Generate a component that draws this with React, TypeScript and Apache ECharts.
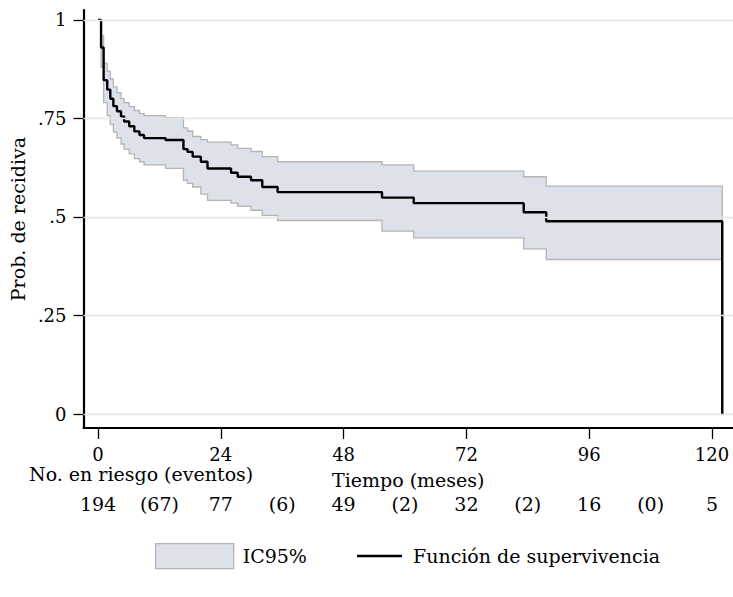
import React, { useEffect, useRef } from "react";
import * as echarts from "echarts";

// Kaplan-Meier step data (months, probability)
const times = [0, 0.6, 1.1, 1.8, 2.4, 3.0, 3.7, 4.5, 5.1, 6.1, 7.1, 8.1, 9.0, 13.2, 16.7, 17.5, 18.5, 20.1, 21.4, 26.0, 27.3, 29.9, 32.1, 35.1, 55.5, 61.7, 83.2, 87.6];
const survival = [1, 0.93, 0.847, 0.823, 0.8, 0.781, 0.768, 0.755, 0.742, 0.73, 0.717, 0.708, 0.7, 0.695, 0.672, 0.665, 0.653, 0.64, 0.623, 0.612, 0.602, 0.593, 0.576, 0.563, 0.549, 0.535, 0.512, 0.489];
const upper = [1, 0.96, 0.89, 0.87, 0.85, 0.83, 0.815, 0.8, 0.79, 0.78, 0.77, 0.762, 0.757, 0.751, 0.726, 0.718, 0.704, 0.696, 0.69, 0.683, 0.674, 0.666, 0.653, 0.64, 0.632, 0.616, 0.602, 0.578];
const lower = [1, 0.88, 0.79, 0.757, 0.735, 0.715, 0.7, 0.685, 0.672, 0.66, 0.648, 0.64, 0.632, 0.623, 0.593, 0.585, 0.576, 0.558, 0.542, 0.535, 0.527, 0.517, 0.504, 0.491, 0.464, 0.447, 0.419, 0.392];
const lastTime = 122;

const xTicks = [0, 24, 48, 72, 96, 120];
const yTicks = [0, 0.25, 0.5, 0.75, 1];
const yTickLabels = ["0", ".25", ".5", ".75", "1"];

const riskTimes = [0, 12, 24, 36, 48, 60, 72, 84, 96, 108, 120];
const riskLabels = ["194", "(67)", "77", "(6)", "49", "(2)", "32", "(2)", "16", "(0)", "5"];

const FONT = "DejaVu Serif";
const FS = 19;
const TICK_FS = 18;

export default function App() {
  const ref = useRef<HTMLDivElement>(null);
  useEffect(() => {
    if (!ref.current) return;
    const chart = echarts.init(ref.current, null, { renderer: "svg" });

    const lineData: number[][] = times.map((t, i) => [t, survival[i]]);
    lineData.push([lastTime, 0]);

    const option: any = {
      animation: false,
      backgroundColor: "#ffffff",
      textStyle: { fontFamily: FONT, color: "#000" },
      grid: { left: 83, right: 0, top: 10, bottom: 169, containLabel: false },
      xAxis: [
        {
          type: "value",
          min: -2.83,
          max: 124.1,
          name: "Tiempo (meses)",
          nameLocation: "middle",
          nameGap: 42,
          nameTextStyle: { fontFamily: FONT, fontSize: FS, color: "#000" },
          axisLine: { show: true, onZero: false, lineStyle: { color: "#000", width: 2.2 } },
          axisTick: { show: true, length: 11, customValues: xTicks, lineStyle: { color: "#000", width: 1.3 } },
          axisLabel: { customValues: xTicks, margin: 17, fontFamily: FONT, fontSize: TICK_FS, color: "#000" },
          splitLine: { show: false },
        },
        {
          type: "value",
          position: "bottom",
          min: -2.83,
          max: 124.1,
          axisLine: { show: false },
          axisTick: { show: false },
          splitLine: { show: false },
          axisLabel: {
            customValues: riskTimes,
            margin: 66,
            fontFamily: FONT,
            fontSize: FS,
            color: "#000",
            formatter: (v: number) => {
              const i = riskTimes.indexOf(v);
              return i >= 0 ? riskLabels[i] : "";
            },
          },
        },
      ],
      yAxis: {
        type: "value",
        min: -0.0355,
        max: 1.025,
        name: "Prob. de recidiva",
        nameLocation: "middle",
        nameGap: 52,
        nameTextStyle: { fontFamily: FONT, fontSize: FS, color: "#000" },
        axisLine: { show: true, onZero: false, lineStyle: { color: "#000", width: 2.2 } },
        axisTick: { show: true, length: 10, customValues: yTicks, lineStyle: { color: "#000", width: 1.3 } },
        axisLabel: {
          customValues: yTicks,
          margin: 17,
          fontFamily: FONT,
          fontSize: TICK_FS,
          color: "#000",
          formatter: (v: number) => {
            const i = yTicks.indexOf(v);
            return i >= 0 ? yTickLabels[i] : "";
          },
        },
        splitLine: { show: false },
      },
      legend: [
        {
          left: 155,
          top: 543,
          padding: 0,
          itemWidth: 78,
          itemHeight: 25,
          textStyle: { fontFamily: FONT, fontSize: FS, color: "#000", padding: [0, 0, 0, 4] },
          data: [
            { name: "IC95%", icon: "rect", itemStyle: { color: "#dde1ea", borderColor: "#b4b4b4", borderWidth: 1.3 } },
          ],
          selectedMode: false,
        },
        {
          left: 357,
          top: 545,
          padding: 0,
          itemWidth: 45,
          itemHeight: 2.4,
          textStyle: { fontFamily: FONT, fontSize: FS, color: "#000", padding: [0, 0, 0, 6], lineHeight: 22 },
          data: [{ name: "Función de supervivencia", icon: "rect", itemStyle: { color: "#000" } }],
          selectedMode: false,
        },
      ],
      graphic: [
        {
          type: "text",
          left: 29,
          top: 464,
          style: { text: "No. en riesgo (eventos)", fontFamily: FONT, fontSize: FS, fill: "#000" },
        },
      ],
      series: [
        {
          name: "grid",
          type: "line",
          data: [],
          z: 0,
          silent: true,
          markLine: {
            silent: true,
            symbol: "none",
            label: { show: false },
            lineStyle: { color: "#e4e4e4", width: 1.3, type: "solid" },
            data: yTicks.map((v) => ({ yAxis: v })),
          },
        },
        {
          name: "IC95%",
          type: "custom",
          z: 1,
          silent: true,
          data: [[0, 0]],
          renderItem: (params: any, api: any) => {
            const pts: number[][] = [];
            for (let i = 1; i < times.length; i++) {
              const tNext = i + 1 < times.length ? times[i + 1] : lastTime;
              pts.push(api.coord([times[i], upper[i]]));
              pts.push(api.coord([tNext, upper[i]]));
            }
            for (let i = times.length - 1; i >= 1; i--) {
              const tNext = i + 1 < times.length ? times[i + 1] : lastTime;
              pts.push(api.coord([tNext, lower[i]]));
              pts.push(api.coord([times[i], lower[i]]));
            }
            return {
              type: "polygon",
              shape: { points: pts },
              style: { fill: "#dde1ea", stroke: "#b4b4b4", lineWidth: 1.3 },
            };
          },
        },
        {
          name: "Función de supervivencia",
          type: "line",
          step: "end",
          z: 3,
          symbol: "none",
          showSymbol: false,
          data: lineData,
          lineStyle: { color: "#000", width: 2.4 },
          itemStyle: { color: "#000" },
        },
      ],
    };
    chart.setOption(option);
    return () => chart.dispose();
  }, []);
  return <div ref={ref} style={{ position: "fixed", left: 0, top: 0, width: 733, height: 597 }} />;
}
